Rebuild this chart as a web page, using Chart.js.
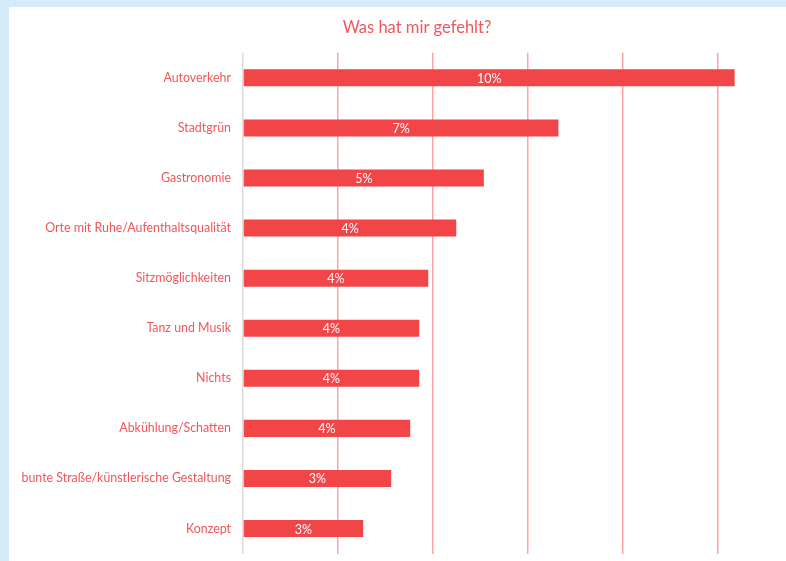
<!DOCTYPE html>
<html>
<head>
<meta charset="utf-8">
<script src="https://cdn.jsdelivr.net/npm/chart.js@4"></script>
<style>
    html, body { margin: 0; padding: 0; }
    body { width: 786px; height: 561px; background: #d5ebf9; overflow: hidden; position: relative; }
    #card { position: absolute; left: 9px; top: 7px; width: 816px; height: 566px; background: #ffffff; }
</style>
</head>
<body>
<div id="card"><canvas id="barChart" width="816" height="566"></canvas></div>
<script>
// Daten
const categories = [
    'Autoverkehr',
    'Stadtgrün',
    'Gastronomie',
    'Orte mit Ruhe/Aufenthaltsqualität',
    'Sitzmöglichkeiten',
    'Tanz und Musik',
    'Nichts',
    'Abkühlung/Schatten',
    'bunte Straße/künstlerische Gestaltung',
    'Konzept'
];
const percentValues = [10.35, 6.64, 5.07, 4.49, 3.90, 3.71, 3.71, 3.52, 3.12, 2.53];
const chartTitle = 'Was hat mir gefehlt?';

const red = '#f24548';
const textRed = '#f0565a';
const fontName = 'Lato, "Open Sans", sans-serif';

// Prozentwerte in die Balken schreiben
const barLabels = {
    id: 'barLabels',
    afterDatasetsDraw(chart) {
        const c = chart.ctx;
        const meta = chart.getDatasetMeta(0);
        c.save();
        c.fillStyle = '#ffffff';
        c.font = '12.5px ' + fontName;
        c.textAlign = 'center';
        c.textBaseline = 'middle';
        meta.data.forEach((bar, i) => {
            const v = chart.data.datasets[0].data[i];
            c.fillText(Math.round(v) + '%', (bar.x + bar.base) / 2, bar.y + 1);
        });
        c.restore();
    }
};

const ctx = document.getElementById('barChart').getContext('2d');
const myBarChart = new Chart(ctx, {
    type: 'bar',
    data: {
        labels: categories,
        datasets: [{
            data: percentValues,
            backgroundColor: red,
            borderWidth: 0,
            categoryPercentage: 1,
            barPercentage: 0.34
        }]
    },
    options: {
        indexAxis: 'y',
        responsive: false,
        animation: false,
        layout: { padding: { left: 12, right: 12, top: 0, bottom: 9 } },
        plugins: {
            legend: { display: false },
            tooltip: { enabled: false },
            title: {
                display: true,
                text: chartTitle,
                color: textRed,
                font: { family: fontName, size: 16.5, weight: 'normal' },
                padding: { top: 11, bottom: 15 }
            }
        },
        scales: {
            x: {
                min: 0,
                max: 12,
                ticks: { display: false, stepSize: 2 },
                border: { display: false },
                grid: {
                    drawTicks: false,
                    lineWidth: 1.5,
                    color: (c) => c.index === 0 ? '#dcdcdc' : '#ffa3a3'
                },
                afterFit: (scale) => { scale.height = 0; }
            },
            y: {
                ticks: {
                    color: textRed,
                    padding: 12,
                    font: { family: fontName, size: 12.4 }
                },
                border: { display: false },
                grid: { display: false, drawTicks: false },
                afterFit: (scale) => { scale.width = 222; }
            }
        }
    },
    plugins: [barLabels]
});
</script>
</body>
</html>
